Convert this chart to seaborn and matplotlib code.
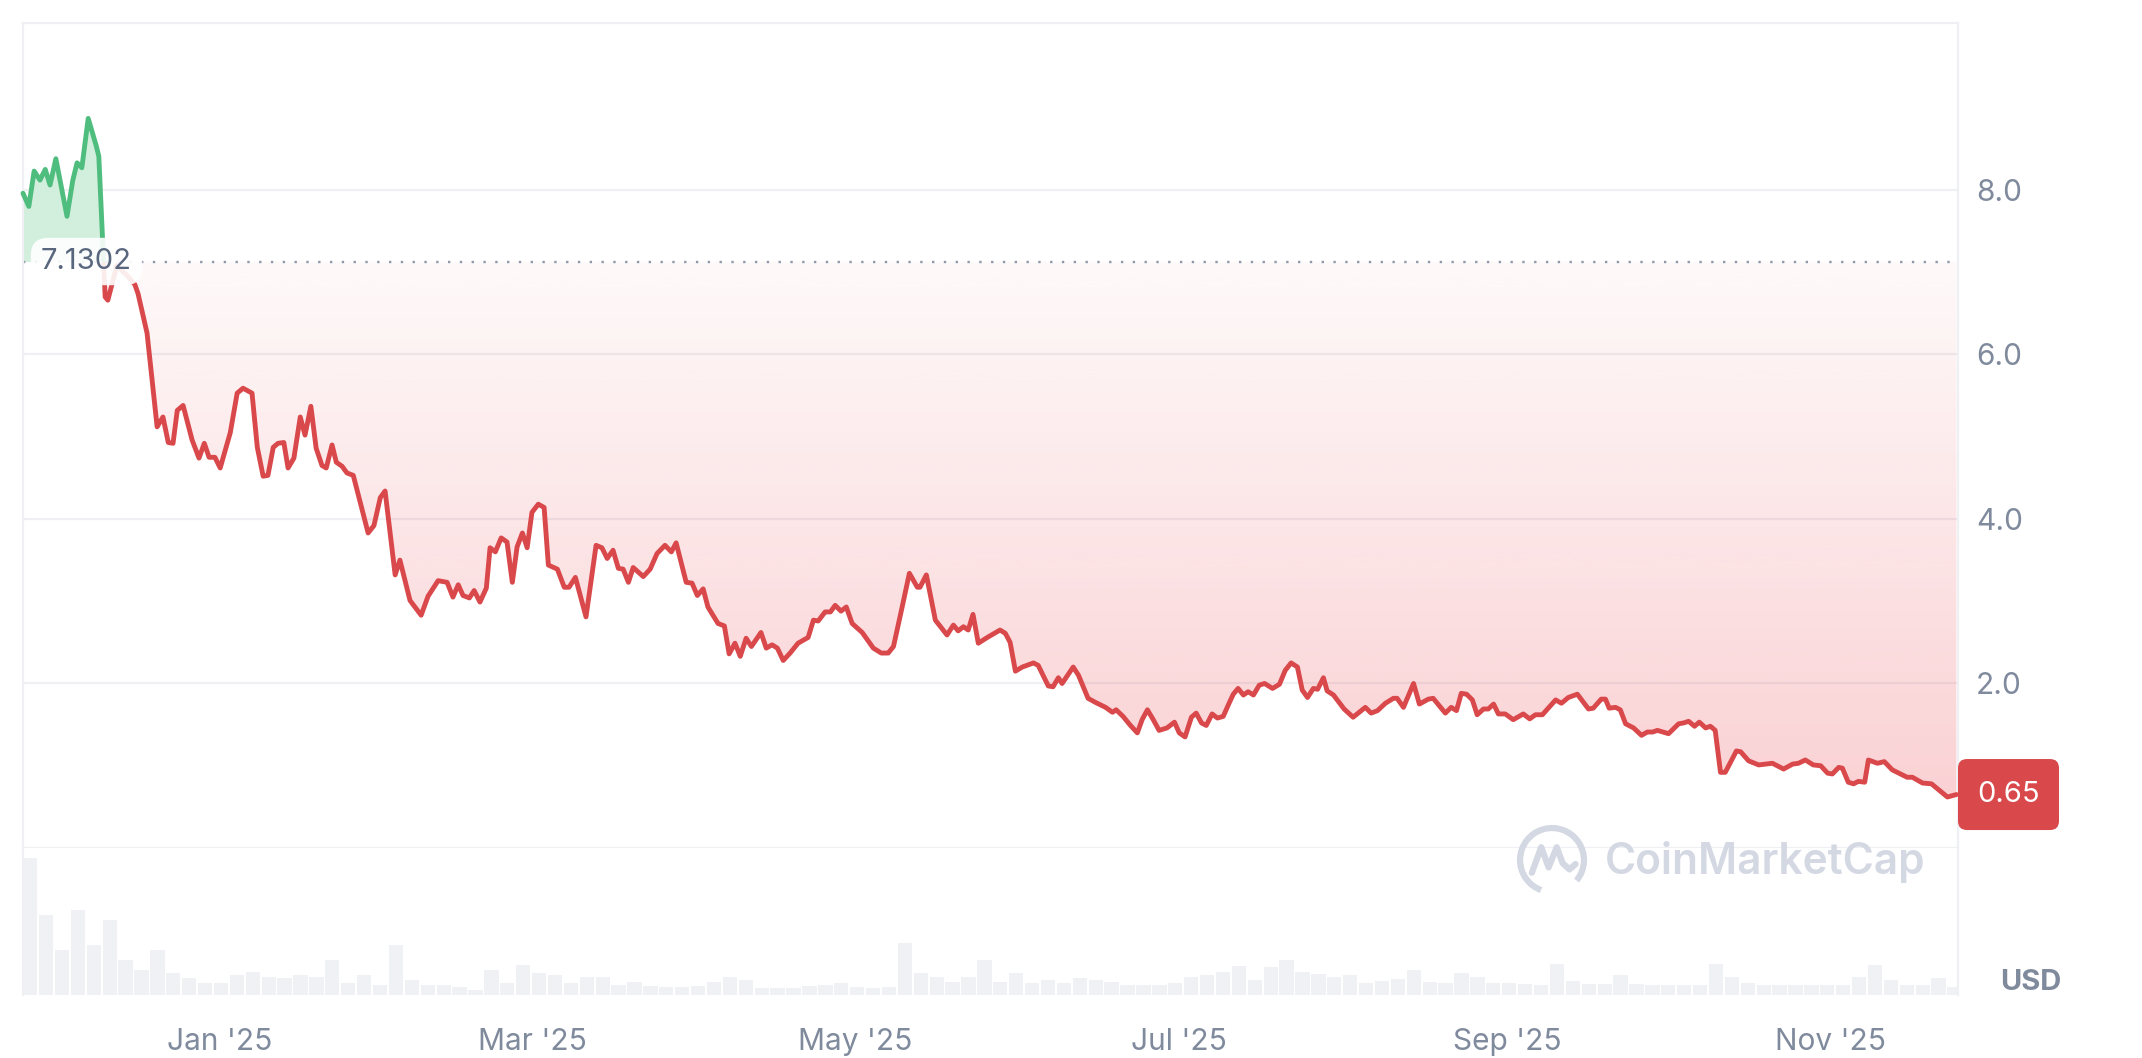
import matplotlib
matplotlib.use('Agg')
import matplotlib.dates as mdates
import matplotlib.pyplot as plt
import numpy as np
import pandas as pd
import seaborn as sns
from matplotlib.patches import Arc, FancyBboxPatch, PathPatch, Rectangle
from matplotlib.path import Path

# --- data ---
START = '2024-11-25'
BASELINE = 7.1302
LAST_PRICE = 0.65

price_day = [
    0, 1.1, 2.1, 3.2, 4.2, 5.1, 6.2, 8.3, 9.4, 10.2,
    11.1, 12.3, 13.8, 14.3, 15.5, 16.0, 17.7, 19.8, 21.1, 21.7,
    23.4, 25.3, 26.4, 27.4, 28.3, 29.1, 30.2, 31.9, 33.2, 34.2,
    35.1, 36.2, 37.2, 39.1, 40.4, 41.5, 43.2, 44.2, 45.3, 46.2,
    47.2, 48.1, 49.2, 50.0, 51.1, 52.3, 53.2, 54.3, 55.3, 56.4,
    57.2, 58.3, 59.1, 60.2, 61.1, 62.3, 65.1, 66.2, 67.4, 68.3,
    70.2, 71.1, 73.0, 75.1, 76.4, 78.3, 80.0, 81.1, 82.1, 83.0,
    84.2, 85.1, 86.2, 87.4, 88.1, 89.1, 90.2, 91.3, 92.3, 93.2,
    94.2, 95.1, 96.0, 97.2, 98.3, 99.1, 100.8, 102.1, 103.0, 104.2,
    106.2, 108.1, 109.2, 110.2, 111.3, 112.3, 113.2, 114.2, 115.1, 117.0,
    118.3, 119.6, 121.1, 122.3, 123.2, 125.1, 126.2, 127.2, 128.3, 129.2,
    131.1, 132.3, 133.2, 134.3, 135.3, 136.4, 137.4, 139.2, 140.2, 141.3,
    142.3, 143.4, 144.7, 146.2, 148.1, 149.1, 150.0, 151.3, 152.3, 153.2,
    154.3, 155.3, 156.4, 158.3, 160.4, 161.9, 163.2, 164.2, 165.8, 167.2,
    168.7, 169.2, 170.4, 172.1, 174.3, 175.5, 176.4, 177.4, 178.3, 179.2,
    180.2, 181.9, 184.3, 185.3, 186.2, 187.2, 188.5, 190.6, 191.5, 193.4,
    194.3, 195.3, 196.0, 198.1, 199.1, 200.9, 202.3, 204.2, 205.5, 206.2,
    207.5, 208.9, 210.2, 211.1, 212.1, 213.2, 214.3, 215.8, 217.2, 218.1,
    219.2, 220.4, 221.3, 222.3, 223.2, 224.3, 225.3, 226.4, 227.5, 228.3,
    229.2, 230.2, 231.1, 232.1, 233.2, 234.2, 235.7, 237.0, 238.1, 239.2,
    240.4, 241.3, 242.3, 243.4, 244.2, 245.3, 246.0, 247.2, 249.2, 250.9,
    253.2, 254.3, 255.5, 257.0, 258.5, 259.2, 260.4, 262.3, 263.4, 265.1,
    266.0, 268.3, 269.4, 270.4, 271.3, 272.3, 273.4, 274.3, 275.5, 276.4,
    277.4, 278.3, 279.6, 281.1, 283.0, 284.2, 285.3, 286.6, 289.1, 290.2,
    291.5, 293.2, 295.3, 296.2, 297.7, 298.5, 299.2, 300.4, 301.3, 302.3,
    303.8, 305.3, 306.4, 307.4, 308.3, 310.4, 312.3, 313.2, 314.2, 315.3,
    316.2, 317.4, 318.3, 319.2, 320.2, 321.1, 323.2, 324.0, 325.5, 327.4,
    330.0, 332.1, 333.8, 334.9, 336.2, 337.7, 339.1, 340.4, 341.3, 342.5,
    343.2, 344.3, 345.3, 346.2, 347.4, 348.1, 349.8, 351.1, 352.6, 355.4,
    356.4, 358.3, 360.0, 363.0, 364.7,
]
price_usd = [
    7.96, 7.80, 8.23, 8.12, 8.25, 8.06, 8.38, 7.68, 8.12, 8.33,
    8.27, 8.87, 8.54, 8.41, 6.70, 6.66, 7.08, 6.95, 6.85, 6.74,
    6.26, 5.12, 5.24, 4.93, 4.92, 5.32, 5.38, 4.96, 4.74, 4.92,
    4.75, 4.75, 4.62, 5.05, 5.53, 5.59, 5.53, 4.87, 4.52, 4.53,
    4.87, 4.92, 4.93, 4.62, 4.74, 5.24, 5.02, 5.37, 4.86, 4.65,
    4.62, 4.90, 4.69, 4.64, 4.56, 4.53, 3.83, 3.92, 4.26, 4.34,
    3.32, 3.50, 3.01, 2.83, 3.06, 3.25, 3.23, 3.05, 3.20, 3.07,
    3.04, 3.13, 2.99, 3.16, 3.65, 3.60, 3.77, 3.72, 3.23, 3.66,
    3.83, 3.65, 4.08, 4.18, 4.14, 3.44, 3.39, 3.17, 3.17, 3.29,
    2.81, 3.68, 3.65, 3.52, 3.62, 3.40, 3.39, 3.23, 3.41, 3.30,
    3.39, 3.58, 3.68, 3.60, 3.71, 3.23, 3.22, 3.07, 3.15, 2.93,
    2.73, 2.70, 2.36, 2.49, 2.33, 2.55, 2.45, 2.62, 2.43, 2.47,
    2.43, 2.28, 2.37, 2.49, 2.56, 2.77, 2.76, 2.87, 2.87, 2.95,
    2.88, 2.93, 2.73, 2.62, 2.43, 2.37, 2.37, 2.45, 2.92, 3.34,
    3.17, 3.17, 3.32, 2.77, 2.59, 2.71, 2.64, 2.69, 2.65, 2.84,
    2.49, 2.56, 2.65, 2.61, 2.50, 2.15, 2.20, 2.25, 2.22, 1.97,
    1.96, 2.07, 2.00, 2.20, 2.10, 1.82, 1.77, 1.71, 1.65, 1.68,
    1.60, 1.49, 1.40, 1.56, 1.68, 1.56, 1.43, 1.46, 1.53, 1.40,
    1.35, 1.59, 1.64, 1.52, 1.49, 1.63, 1.58, 1.60, 1.76, 1.87,
    1.94, 1.86, 1.90, 1.86, 1.98, 2.00, 1.94, 1.99, 2.16, 2.25,
    2.20, 1.92, 1.83, 1.94, 1.93, 2.07, 1.91, 1.86, 1.69, 1.59,
    1.71, 1.64, 1.67, 1.76, 1.82, 1.82, 1.71, 2.00, 1.75, 1.81,
    1.82, 1.64, 1.71, 1.67, 1.88, 1.87, 1.80, 1.62, 1.69, 1.69,
    1.75, 1.63, 1.63, 1.56, 1.63, 1.57, 1.62, 1.62, 1.80, 1.76,
    1.83, 1.87, 1.69, 1.70, 1.81, 1.81, 1.70, 1.71, 1.68, 1.51,
    1.46, 1.37, 1.41, 1.41, 1.43, 1.39, 1.51, 1.52, 1.54, 1.48,
    1.53, 1.46, 1.48, 1.43, 0.92, 0.92, 1.18, 1.17, 1.06, 1.01,
    1.03, 0.96, 1.02, 1.03, 1.07, 1.01, 1.00, 0.91, 0.90, 0.98,
    0.97, 0.80, 0.78, 0.81, 0.80, 1.07, 1.03, 1.05, 0.95, 0.86,
    0.86, 0.79, 0.78, 0.62, 0.65,
]

# volume (relative units), one value per 3 days from START
volume = [
    137, 80, 45, 85, 50, 75, 35, 25, 45, 22,
    17, 12, 12, 20, 23, 18, 17, 20, 18, 35,
    12, 20, 10, 50, 15, 10, 10, 8, 5, 25,
    12, 30, 22, 20, 12, 18, 18, 10, 13, 9,
    8, 8, 9, 13, 18, 15, 7, 7, 7, 9,
    10, 12, 8, 7, 8, 52, 22, 18, 13, 18,
    35, 13, 22, 12, 15, 12, 17, 15, 13, 10,
    10, 10, 12, 18, 20, 23, 29, 15, 28, 35,
    23, 21, 18, 20, 12, 14, 16, 25, 13, 12,
    22, 18, 12, 12, 11, 10, 31, 14, 11, 11,
    20, 11, 10, 10, 10, 10, 31, 18, 12, 10,
    10, 10, 10, 10, 10, 18, 30, 15, 10, 10,
    17, 8,
]
VOLUME_STEP = 3

tick_months = ['2025-01-01', '2025-03-01', '2025-05-01', '2025-07-01', '2025-09-01', '2025-11-01']
price_ticks = [2, 4, 6, 8]

RED = '#d9484b'
GREEN = '#4fbd7e'
GREEN_FILL = '#d2efdd'
GRID = '#eef0f4'
VOL = '#f0f1f5'
LABEL = '#808a9d'
MARK = '#d3d8e3'

sns.set_theme(style='white')
plt.rcParams['font.family'] = ['Inter', 'DejaVu Sans']

W, H = 2142, 1058
fig = plt.figure(figsize=(W / 100, H / 100), dpi=100)
left, right, top, mid, bottom = 23, 1958, 23, 848, 995
ax = fig.add_axes([left / W, 1 - mid / H, (right - left) / W, (mid - top) / H])
axv = fig.add_axes([left / W, 1 - bottom / H, (right - left) / W, (bottom - mid) / H], sharex=ax)

t0 = mdates.date2num(pd.Timestamp(START))
px = t0 + np.asarray(price_day)
py = np.asarray(price_usd)
x0, x1 = t0, t0 + 365

# red gradient area between baseline and the line
yb = np.minimum(py, BASELINE)
verts = np.column_stack([np.r_[px, px[::-1]], np.r_[yb, np.full(len(px), BASELINE)]])
area = PathPatch(Path(verts), facecolor='none', edgecolor='none', transform=ax.transData)
ax.add_patch(area)
alpha = np.linspace(0.25, 0.03, 256)
img = np.zeros((256, 1, 4))
img[..., 0], img[..., 1], img[..., 2] = 234 / 255, 57 / 255, 67 / 255
img[:, 0, 3] = alpha
im = ax.imshow(img, extent=[x0, x1, 0, BASELINE], origin='lower', aspect='auto', zorder=1)
im.set_clip_path(area)

# green area above the baseline
ax.fill_between(px, BASELINE, np.maximum(py, BASELINE), color=GREEN_FILL, lw=0, zorder=1)

# price line: red below the baseline, green above
df = pd.DataFrame({'t': px, 'price': py})
sns.lineplot(data=df, x='t', y='price', ax=ax, color=RED, lw=3.5, zorder=3)
ax.lines[-1].set_clip_path(Rectangle((x0 - 5, -5), 400, BASELINE + 5, transform=ax.transData))
ax.lines[-1].set_solid_joinstyle('round')
sns.lineplot(data=df, x='t', y='price', ax=ax, color=GREEN, lw=3.5, zorder=3)
ax.lines[-1].set_clip_path(Rectangle((x0 - 5, BASELINE), 400, 20, transform=ax.transData))
ax.lines[-1].set_solid_joinstyle('round')

ax.axhline(BASELINE, color='#8f98a8', lw=1.7, ls=(0, (1, 4)), zorder=2)

ax.set_xlim(x0, x1)
ax.set_ylim(0, 10.03)
ax.set_xlabel('')
ax.set_ylabel('')
ax.set_yticks(price_ticks)
ax.set_yticklabels([f'{v:.1f}' for v in price_ticks])
ax.yaxis.tick_right()
ax.tick_params(axis='y', length=0, pad=13, labelsize=21.5, labelcolor=LABEL)
ax.tick_params(axis='x', bottom=False, labelbottom=False)
ax.grid(axis='y', color=GRID, lw=1.6, zorder=0)
ax.grid(axis='x', visible=False)
for s in ax.spines.values():
    s.set_color(GRID)
    s.set_linewidth(1.6)

# volume bars
vx = t0 + np.arange(len(volume)) * VOLUME_STEP
axv.bar(vx, volume, width=2.7, align='edge', color=VOL, lw=0)
axv.set_ylim(0, 147)
axv.set_yticks([])
axv.set_xticks(mdates.date2num(pd.to_datetime(tick_months)))
axv.xaxis.set_major_formatter(mdates.DateFormatter("%b '%y"))
axv.tick_params(axis='x', length=0, pad=24, labelsize=21.5, labelcolor=LABEL)
axv.set_xlim(x0, x1)
for name, s in axv.spines.items():
    s.set_color(GRID)
    s.set_linewidth(1.6)
    s.set_visible(name in ('left', 'right'))

# baseline label
ax.text((41 - left) / (right - left), BASELINE, '7.1302', transform=ax.get_yaxis_transform(),
        ha='left', va='center', fontsize=21, color='#58667e', zorder=6,
        bbox=dict(boxstyle='round,pad=0.35,rounding_size=0.6', fc='white', ec='none', alpha=0.9))

# last price tag (pixel-sized box tied to the data value)
y_tag = ax.transData.transform((x1, LAST_PRICE))[1]
fig.add_artist(FancyBboxPatch((right, y_tag - 35.5), 101, 71, boxstyle='round,pad=0,rounding_size=9',
                              fc=RED, ec='none', transform=None, zorder=6))
fig.text((right + 50.5) / W, y_tag / H, f'{LAST_PRICE:.2f}', ha='center', va='center',
         fontsize=21, color='white', zorder=7)
fig.text(2031 / W, 1 - 983 / H, 'USD', ha='center', va='center', fontsize=21,
         fontweight='bold', color=LABEL)

# watermark
fig.text(1605 / W, 1 - 862 / H, 'CoinMarketCap', ha='left', va='center', fontsize=30.5,
         fontweight='semibold', color=MARK, zorder=10)
lax = fig.add_axes([(1552 - 37) / W, 1 - (860 + 37) / H, 74 / W, 74 / H])
lax.set_xlim(-1.1, 1.1)
lax.set_ylim(-1.1, 1.1)
lax.axis('off')
lax.add_patch(Arc((0, 0), 1.9, 1.9, theta1=-40, theta2=250, color=MARK, lw=4.5))
lax.plot([-0.6, -0.32, -0.1, 0.14, 0.32, 0.52, 0.7], [-0.38, 0.38, -0.22, 0.38, -0.1, -0.28, -0.12],
         color=MARK, lw=4.5, solid_joinstyle='round', solid_capstyle='round')

fig.savefig('out.png', dpi=100)
